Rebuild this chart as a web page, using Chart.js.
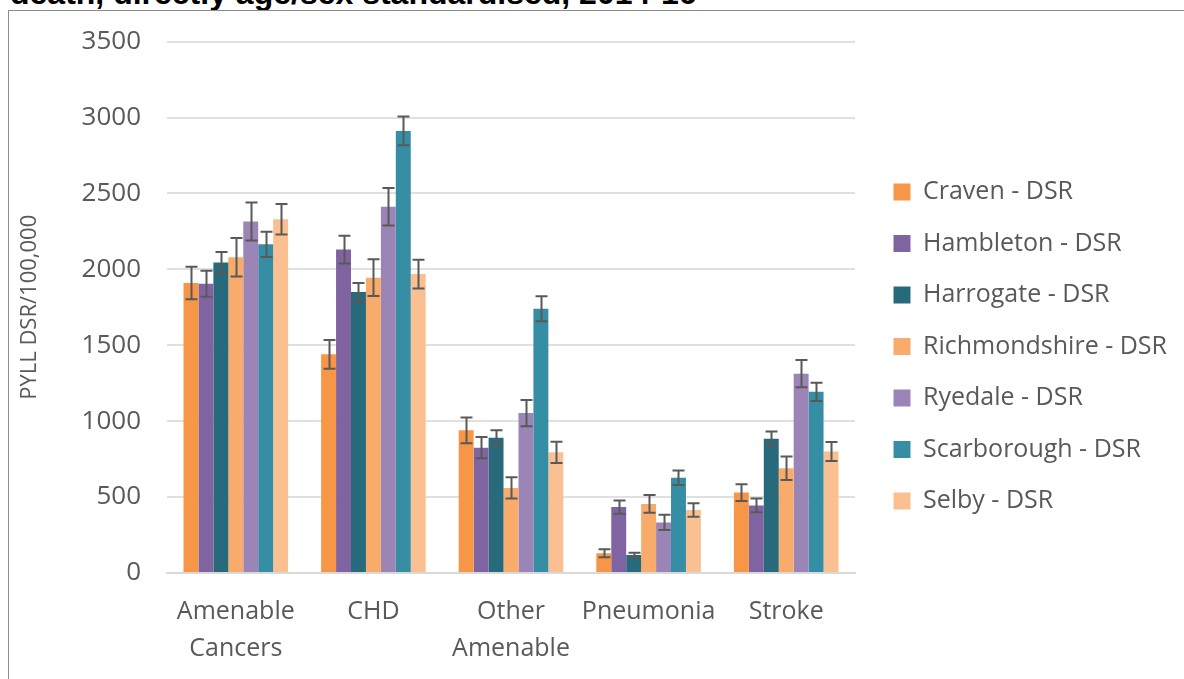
<!DOCTYPE html>
<html>
<head>
<meta charset="utf-8">
<script src="https://cdn.jsdelivr.net/npm/chart.js@4.4.1/dist/chart.umd.min.js"></script>
<style>
  html, body { margin: 0; padding: 0; background: #fff; overflow: hidden; }
  body { width: 1184px; height: 679px; position: relative; }
  #title { position: absolute; left: 10px; top: -25px; font: bold 32px "Liberation Sans", Arial, sans-serif; color: #000; white-space: nowrap; line-height: 37px; z-index: 0; }
  #frame { position: absolute; left: 8px; top: 10px; width: 1300px; height: 800px; border: 1px solid #8c8c8c; background: #fff; z-index: 1; }
  #c { position: absolute; left: 0; top: 0; z-index: 2; }
</style>
</head>
<body>
<div id="title">death, directly age/sex standardised, 2014-16</div>
<div id="frame"></div>
<canvas id="c" width="1184" height="679"></canvas>
<script>
// ---- data ----
const categories = [['Amenable', 'Cancers'], 'CHD', ['Other', 'Amenable'], 'Pneumonia', 'Stroke'];
const seriesNames = ['Craven - DSR', 'Hambleton - DSR', 'Harrogate - DSR', 'Richmondshire - DSR', 'Ryedale - DSR', 'Scarborough - DSR', 'Selby - DSR'];

const craven        = [1910, 1440,  940, 130,  530];
const hambleton     = [1905, 2130,  825, 434,  445];
const harrogate     = [2045, 1850,  890, 118,  884];
const richmondshire = [2080, 1945,  560, 455,  690];
const ryedale       = [2315, 2412, 1053, 333, 1313];
const scarborough   = [2165, 2912, 1740, 627, 1193];
const selby         = [2330, 1969,  795, 415,  800];

const cravenErr        = [107,  95, 85, 27, 55];
const hambletonErr     = [ 85,  92, 70, 44, 45];
const harrogateErr     = [ 70,  60, 50, 16, 48];
const richmondshireErr = [127, 121, 70, 58, 78];
const ryedaleErr       = [125, 124, 87, 50, 90];
const scarboroughErr   = [ 83,  95, 82, 48, 60];
const selbyErr         = [101,  95, 70, 44, 62];

const yTicks = [0, 500, 1000, 1500, 2000, 2500, 3000, 3500];

// ---- styling ----
const colors = ['#F79646', '#8064A2', '#276A7C', '#F9AB6B', '#9B85B7', '#368EA5', '#FAC091'];
const values = [craven, hambleton, harrogate, richmondshire, ryedale, scarborough, selby];
const errors = [cravenErr, hambletonErr, harrogateErr, richmondshireErr, ryedaleErr, scarboroughErr, selbyErr];
const TEXT = '#595959';
const FONT = '"Open Sans", "DejaVu Sans", sans-serif';

const errorBars = {
  id: 'errorBars',
  afterDatasetsDraw(chart) {
    const ctx = chart.ctx;
    const y = chart.scales.y;
    ctx.save();
    ctx.strokeStyle = '#595959';
    ctx.lineWidth = 2;
    chart.data.datasets.forEach((ds, i) => {
      const meta = chart.getDatasetMeta(i);
      meta.data.forEach((bar, j) => {
        const v = ds.data[j], e = ds.errors[j];
        const top = y.getPixelForValue(v + e);
        const bot = y.getPixelForValue(v - e);
        const x = Math.round(bar.x) + 0.5;
        const half = 6;
        ctx.beginPath();
        ctx.moveTo(x, top); ctx.lineTo(x, bot);
        ctx.moveTo(x - half, top); ctx.lineTo(x + half, top);
        ctx.moveTo(x - half, bot); ctx.lineTo(x + half, bot);
        ctx.stroke();
      });
    });
    ctx.restore();
  }
};

const legendFix = {
  id: 'legendFix',
  beforeLayout(chart) {
    const lg = chart.legend;
    if (lg && !lg._fixed) {
      const orig = lg.fit.bind(lg);
      lg.fit = function () { orig(); this.width = 329; };
      lg._fixed = true;
    }
  },
  afterLayout(chart) {
    const lg = chart.legend;
    if (!lg) return;
    lg.left = 867; lg.right = 1184;
    lg.width = lg.right - lg.left;
    lg.top = 3; lg.bottom = 690; lg.height = 687;
  }
};

new Chart(document.getElementById('c'), {
  type: 'bar',
  data: {
    labels: categories,
    datasets: seriesNames.map((name, i) => ({
      label: name,
      data: values[i],
      errors: errors[i],
      backgroundColor: colors[i],
      borderWidth: 0,
      categoryPercentage: 0.76,
      barPercentage: 1.0
    }))
  },
  options: {
    responsive: false,
    animation: false,
    devicePixelRatio: 1,
    layout: { padding: { top: 41, left: 0, right: 0, bottom: 0 } },
    plugins: {
      tooltip: { enabled: false },
      title: { display: false },
      legend: {
        position: 'right',
        align: 'center',
        labels: {
          color: TEXT,
          font: { family: FONT, size: 25 },
          boxWidth: 17,
          boxHeight: 17,
          padding: 26.5
        }
      }
    },
    scales: {
      x: {
        grid: { display: false, drawTicks: false },
        border: { display: true, color: '#d9d9d9', width: 2 },
        ticks: {
          color: TEXT,
          font: { family: FONT, size: 25, lineHeight: 1.45 },
          padding: 21,
          maxRotation: 0,
          minRotation: 0,
          autoSkip: false
        },
        afterFit(scale) { scale.height = 106; }
      },
      y: {
        min: 0,
        max: 3500,
        afterBuildTicks(scale) { scale.ticks = yTicks.map(v => ({ value: v })); },
        grid: { color: '#e0e0e0', lineWidth: 2, drawTicks: false },
        border: { display: false },
        ticks: {
          color: TEXT,
          font: { family: FONT, size: 26 },
          padding: 26,
          callback: (v) => String(v)
        },
        title: {
          display: true,
          text: 'PYLL DSR/100,000',
          color: TEXT,
          font: { family: FONT, size: 22 },
          padding: { top: 17, bottom: 0 }
        },
        afterFit(scale) { scale.width = 167; }
      }
    }
  },
  plugins: [errorBars, legendFix]
});
</script>
</body>
</html>
